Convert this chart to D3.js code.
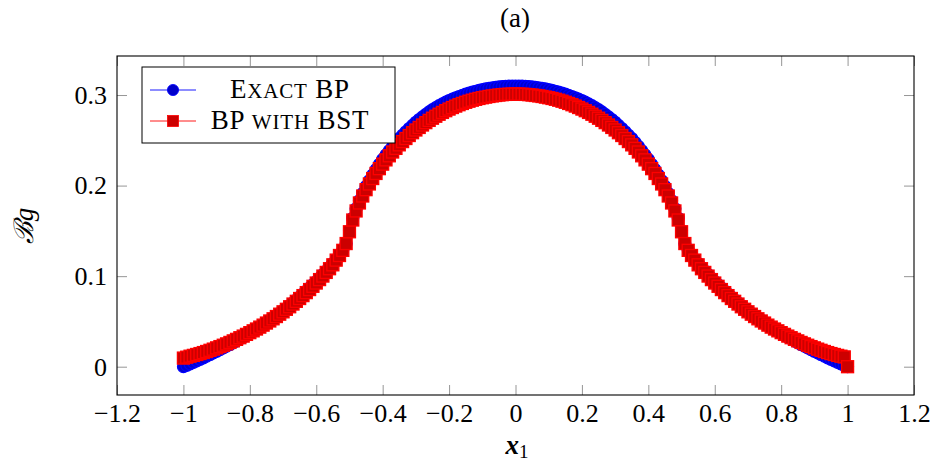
<!DOCTYPE html>
<html>
<head>
<meta charset="utf-8">
<script src="https://cdn.jsdelivr.net/npm/d3@7/dist/d3.min.js"></script>
<style>
  html, body { margin: 0; padding: 0; background: #fff; }
  svg text { font-family: "Liberation Serif", "Times New Roman", serif; fill: #000; }
</style>
</head>
<body>
<svg id="chart" width="935" height="461"></svg>
<script>
// ---- data ----
const xSamples = d3.range(-100, 101).map(i => i / 100); // sampling grid x = -1.00 ... 1.00 step 0.01

const exactBP = [
  0.0000,0.0014,0.0030,0.0047,0.0064,0.0081,0.0098,0.0116,0.0134,0.0152,
  0.0170,0.0188,0.0207,0.0226,0.0245,0.0265,0.0285,0.0306,0.0327,0.0348,
  0.0370,0.0393,0.0416,0.0439,0.0463,0.0487,0.0512,0.0537,0.0563,0.0590,
  0.0617,0.0646,0.0676,0.0706,0.0738,0.0770,0.0803,0.0836,0.0870,0.0905,
  0.0940,0.0978,0.1017,0.1057,0.1098,0.1140,0.1185,0.1235,0.1290,0.1360,
  0.1500,0.1640,0.1745,0.1835,0.1915,0.1990,0.2055,0.2117,0.2177,0.2235,
  0.2290,0.2340,0.2387,0.2433,0.2477,0.2520,0.2558,0.2595,0.2631,0.2666,
  0.2700,0.2730,0.2759,0.2787,0.2814,0.2840,0.2862,0.2883,0.2903,0.2922,
  0.2940,0.2955,0.2970,0.2984,0.2997,0.3010,0.3021,0.3032,0.3042,0.3051,
  0.3060,0.3068,0.3074,0.3080,0.3086,0.3090,0.3094,0.3097,0.3099,0.3100,
  0.3100,0.3100,0.3099,0.3097,0.3094,0.3090,0.3086,0.3080,0.3074,0.3068,
  0.3060,0.3051,0.3042,0.3032,0.3021,0.3010,0.2997,0.2984,0.2970,0.2955,
  0.2940,0.2922,0.2903,0.2883,0.2862,0.2840,0.2814,0.2787,0.2759,0.2730,
  0.2700,0.2666,0.2631,0.2595,0.2558,0.2520,0.2477,0.2433,0.2387,0.2340,
  0.2290,0.2235,0.2177,0.2117,0.2055,0.1990,0.1915,0.1835,0.1745,0.1640,
  0.1500,0.1360,0.1290,0.1235,0.1185,0.1140,0.1098,0.1057,0.1017,0.0978,
  0.0940,0.0905,0.0870,0.0836,0.0803,0.0770,0.0738,0.0706,0.0676,0.0646,
  0.0617,0.0590,0.0563,0.0537,0.0512,0.0487,0.0463,0.0439,0.0416,0.0393,
  0.0370,0.0348,0.0327,0.0306,0.0285,0.0265,0.0245,0.0226,0.0207,0.0188,
  0.0170,0.0152,0.0134,0.0116,0.0098,0.0081,0.0064,0.0047,0.0030,0.0014,
  0.0000
];

const bpWithBST = [
  0.0095,0.0105,0.0116,0.0125,0.0135,0.0145,0.0156,0.0168,0.0181,0.0194,
  0.0208,0.0222,0.0237,0.0252,0.0268,0.0285,0.0302,0.0320,0.0338,0.0357,
  0.0376,0.0396,0.0416,0.0437,0.0459,0.0482,0.0505,0.0529,0.0554,0.0580,
  0.0606,0.0634,0.0662,0.0692,0.0722,0.0753,0.0785,0.0818,0.0852,0.0888,
  0.0924,0.0962,0.1001,0.1041,0.1082,0.1125,0.1177,0.1228,0.1285,0.1360,
  0.1490,0.1620,0.1720,0.1808,0.1885,0.1955,0.2018,0.2078,0.2134,0.2187,
  0.2237,0.2284,0.2329,0.2371,0.2411,0.2450,0.2486,0.2520,0.2553,0.2584,
  0.2614,0.2642,0.2669,0.2695,0.2720,0.2744,0.2766,0.2788,0.2808,0.2827,
  0.2845,0.2862,0.2878,0.2893,0.2907,0.2920,0.2932,0.2943,0.2953,0.2962,
  0.2970,0.2977,0.2984,0.2990,0.2995,0.3000,0.3004,0.3007,0.3009,0.3010,
  0.3010,0.3010,0.3009,0.3007,0.3004,0.3000,0.2995,0.2990,0.2984,0.2977,
  0.2970,0.2962,0.2953,0.2943,0.2932,0.2920,0.2907,0.2893,0.2878,0.2862,
  0.2845,0.2827,0.2808,0.2788,0.2766,0.2744,0.2720,0.2695,0.2669,0.2642,
  0.2614,0.2584,0.2553,0.2520,0.2486,0.2450,0.2411,0.2371,0.2329,0.2284,
  0.2237,0.2187,0.2134,0.2078,0.2018,0.1955,0.1885,0.1808,0.1720,0.1620,
  0.1490,0.1360,0.1285,0.1228,0.1177,0.1125,0.1082,0.1041,0.1001,0.0962,
  0.0924,0.0888,0.0852,0.0818,0.0785,0.0753,0.0722,0.0692,0.0662,0.0634,
  0.0606,0.0580,0.0554,0.0529,0.0505,0.0482,0.0459,0.0437,0.0416,0.0396,
  0.0376,0.0357,0.0338,0.0320,0.0302,0.0285,0.0268,0.0252,0.0237,0.0222,
  0.0208,0.0194,0.0181,0.0168,0.0156,0.0145,0.0135,0.0125,0.0116,0.0108,
  0.0000
];

const xTicks = [-1.2, -1, -0.8, -0.6, -0.4, -0.2, 0, 0.2, 0.4, 0.6, 0.8, 1, 1.2];
const yTicks = [0, 0.1, 0.2, 0.3];
// legend names split into [text, smallCaps] runs
const seriesNames = [
  [["E", false], ["xact", true], [" BP", false]],
  [["BP ", false], ["with", true], [" BST", false]]
];
const titleText = "(a)";

// ---- layout ----
const svg = d3.select("#chart");
const pLeft = 117, pRight = 914, pTop = 56, pBottom = 395;
const x = d3.scaleLinear().domain([-1.2, 1.2]).range([pLeft, pRight]);
const y = d3.scaleLinear().domain([-0.03125, 0.3431]).range([pBottom, pTop]);

const fmt = v => {
  const s = String(Math.round(v * 10) / 10);
  return s.replace("-", "\u2212");
};
const fontSize = 26;
const tickGrey = "#8a8a8a";

function styleAxis(g, showLabels) {
  g.select(".domain").remove();
  g.selectAll(".tick line").attr("stroke", tickGrey).attr("stroke-width", 0.9);
  g.selectAll(".tick text").style("font-size", fontSize + "px").attr("fill", "#000");
  if (!showLabels) g.selectAll(".tick text").remove();
}

svg.append("g").attr("transform", `translate(0,${pBottom})`)
  .call(d3.axisBottom(x).tickValues(xTicks).tickSize(-10).tickPadding(9).tickFormat(fmt))
  .call(g => styleAxis(g, true));
svg.append("g").attr("transform", `translate(0,${pTop})`)
  .call(d3.axisTop(x).tickValues(xTicks).tickSize(-10))
  .call(g => styleAxis(g, false));
svg.append("g").attr("transform", `translate(${pLeft},0)`)
  .call(d3.axisLeft(y).tickValues(yTicks).tickSize(-10).tickPadding(10).tickFormat(fmt))
  .call(g => styleAxis(g, true));
svg.append("g").attr("transform", `translate(${pRight},0)`)
  .call(d3.axisRight(y).tickValues(yTicks).tickSize(-10))
  .call(g => styleAxis(g, false));

// ---- series ----
const blueData = xSamples.map((xv, i) => ({ x: xv, y: exactBP[i] }));
const redData = xSamples.map((xv, i) => ({ x: xv, y: bpWithBST[i] }));
const line = d3.line().x(d => x(d.x)).y(d => y(d.y));
const rCirc = 5.9, sq = 12.0, markStroke = 1.3;

const plot = svg.append("g");
plot.append("path").datum(blueData).attr("d", line)
  .attr("fill", "none").attr("stroke", "#0000ff").attr("stroke-width", 0.8);
plot.append("g").selectAll("circle").data(blueData).join("circle")
  .attr("cx", d => x(d.x)).attr("cy", d => y(d.y)).attr("r", rCirc)
  .attr("fill", "#0000cc").attr("stroke", "#0000ff").attr("stroke-width", markStroke);

plot.append("path").datum(redData).attr("d", line)
  .attr("fill", "none").attr("stroke", "#ff0000").attr("stroke-width", 0.8);
plot.append("g").selectAll("rect").data(redData).join("rect")
  .attr("x", d => x(d.x) - sq / 2).attr("y", d => y(d.y) - sq / 2)
  .attr("width", sq).attr("height", sq)
  .attr("fill", "#cc0000").attr("stroke", "#ff0000").attr("stroke-width", markStroke);

// ---- frame ----
svg.append("rect").attr("x", pLeft).attr("y", pTop)
  .attr("width", pRight - pLeft).attr("height", pBottom - pTop)
  .attr("fill", "none").attr("stroke", "#000").attr("stroke-width", 1.1);

// ---- title & labels ----
svg.append("text").attr("x", 515).attr("y", 27).attr("text-anchor", "middle")
  .style("font-size", "27px").text(titleText);

const xl = svg.append("text").attr("x", 517).attr("y", 454).attr("text-anchor", "middle")
  .style("font-size", "27px");
xl.append("tspan").style("font-weight", "bold").style("font-style", "italic").text("x");
xl.append("tspan").attr("dy", 4).style("font-size", "19px").text("1");

const yl = svg.append("text").attr("transform", "translate(33,226) rotate(-90)")
  .attr("text-anchor", "middle").style("font-size", "27px");
yl.append("tspan").style("font-style", "italic").text("\u212C");
yl.append("tspan").style("font-style", "italic").text("g");

// ---- legend ----
const lg = svg.append("g");
lg.append("rect").attr("x", 142).attr("y", 67).attr("width", 253).attr("height", 76)
  .attr("fill", "#fff").attr("stroke", "#000").attr("stroke-width", 1);
const legendRows = [
  { name: seriesNames[0], y: 90, color: "#0000ff", fill: "#0000cc", mark: "circle" },
  { name: seriesNames[1], y: 121, color: "#ff0000", fill: "#cc0000", mark: "square" }
];
legendRows.forEach(r => {
  lg.append("line").attr("x1", 150).attr("x2", 196).attr("y1", r.y).attr("y2", r.y)
    .attr("stroke", r.color).attr("stroke-width", 0.9);
  if (r.mark === "circle") {
    lg.append("circle").attr("cx", 173).attr("cy", r.y).attr("r", 5.6)
      .attr("fill", r.fill).attr("stroke", r.color).attr("stroke-width", 0.8);
  } else {
    lg.append("rect").attr("x", 173 - 5.5).attr("y", r.y - 5.5).attr("width", 11).attr("height", 11)
      .attr("fill", r.fill).attr("stroke", r.color).attr("stroke-width", 0.8);
  }
  const t = lg.append("text").attr("x", 290).attr("y", r.y + 8).attr("text-anchor", "middle")
    .style("font-size", "27px").style("letter-spacing", "0.8px");
  r.name.forEach(([s, sc]) => {
    const ts = t.append("tspan").text(sc ? s.toUpperCase() : s);
    if (sc) ts.style("font-size", "21px");
  });
});
</script>
</body>
</html>
